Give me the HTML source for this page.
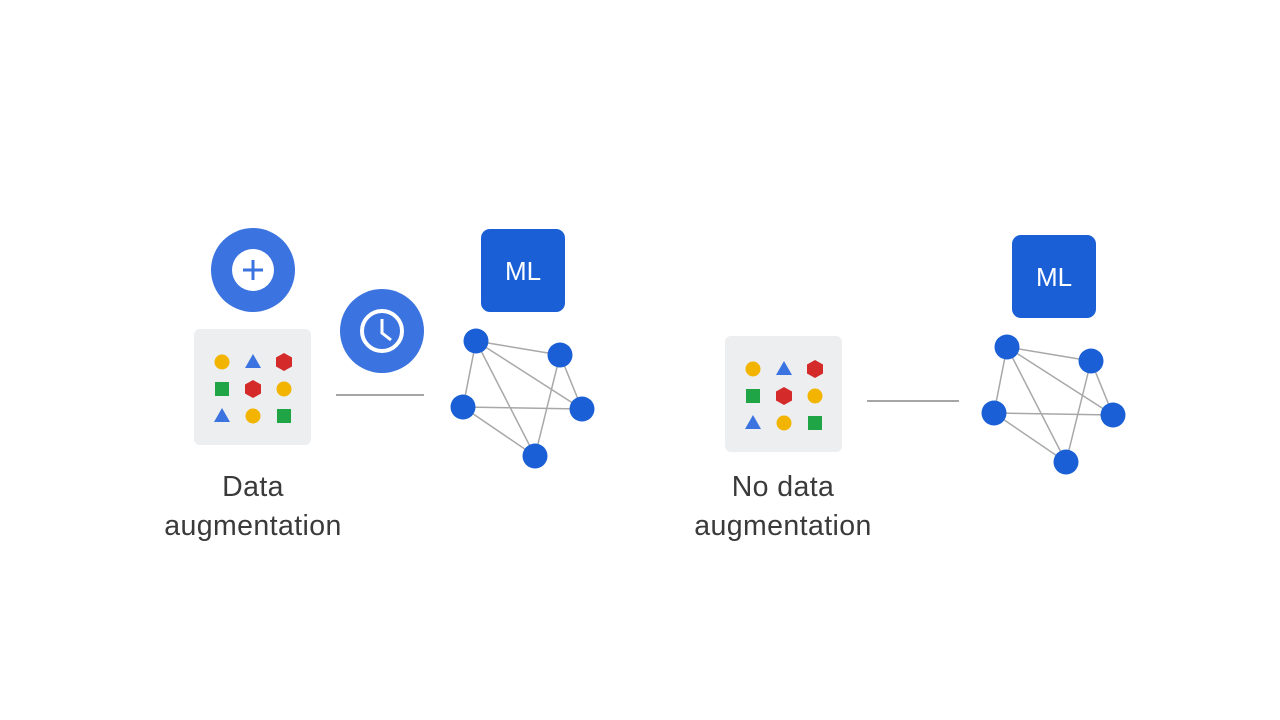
<!DOCTYPE html>
<html><head><meta charset="utf-8"><style>
html,body{margin:0;padding:0;background:#fff}
svg{display:block}
text{font-family:"Liberation Sans",sans-serif}
.lbl{font-size:28.5px;fill:#3a3a3a;letter-spacing:0.4px}
</style></head><body>
<svg width="1280" height="720" viewBox="0 0 1280 720" xmlns="http://www.w3.org/2000/svg">
<defs>
<g id="grid">
  <rect x="194" y="329" width="117" height="116" rx="6" fill="#eceef0"/>
  <circle cx="222" cy="362" r="7.5" fill="#f3b400"/>
  <polygon points="253,354 261,368 245,368" fill="#3b73e0"/>
  <polygon points="284,353 292,357.5 292,366.5 284,371 276,366.5 276,357.5" fill="#d42a2a"/>
  <rect x="215" y="382" width="14" height="14" fill="#1fa546"/>
  <polygon points="253,380 261,384.5 261,393.5 253,398 245,393.5 245,384.5" fill="#d42a2a"/>
  <circle cx="284" cy="389" r="7.5" fill="#f3b400"/>
  <polygon points="222,408 230,422 214,422" fill="#3b73e0"/>
  <circle cx="253" cy="416" r="7.5" fill="#f3b400"/>
  <rect x="277" y="409" width="14" height="14" fill="#1fa546"/>
</g>
<g id="net">
  <g stroke="#a8a8a8" stroke-width="1.5">
    <line x1="476" y1="341" x2="560" y2="355"/>
    <line x1="476" y1="341" x2="463" y2="407"/>
    <line x1="476" y1="341" x2="582" y2="409"/>
    <line x1="476" y1="341" x2="535" y2="456"/>
    <line x1="560" y1="355" x2="582" y2="409"/>
    <line x1="560" y1="355" x2="535" y2="456"/>
    <line x1="463" y1="407" x2="582" y2="409"/>
    <line x1="463" y1="407" x2="535" y2="456"/>
  </g>
  <g fill="#1a5fd6">
    <circle cx="476" cy="341" r="12.5"/>
    <circle cx="560" cy="355" r="12.5"/>
    <circle cx="463" cy="407" r="12.5"/>
    <circle cx="582" cy="409" r="12.5"/>
    <circle cx="535" cy="456" r="12.5"/>
  </g>
  <rect x="481" y="229" width="84" height="83" rx="9" fill="#1a5fd6"/>
  <text x="523" y="280" font-size="26" fill="#fff" text-anchor="middle">ML</text>
</g>
</defs>

<circle cx="253" cy="270" r="42" fill="#3b73e0"/>
<circle cx="253" cy="270" r="21" fill="#fff"/>
<rect x="251.5" y="260" width="3" height="20" fill="#3b73e0"/>
<rect x="243" y="268.5" width="20" height="3" fill="#3b73e0"/>

<circle cx="382" cy="331" r="42" fill="#3b73e0"/>
<circle cx="382" cy="331" r="20" fill="none" stroke="#fff" stroke-width="4"/>
<polyline points="382,319 382,333 391,340" fill="none" stroke="#fff" stroke-width="3"/>

<use href="#grid"/>
<line x1="336" y1="395" x2="424" y2="395" stroke="#888" stroke-width="1.5"/>
<use href="#net"/>
<text x="253" y="496" class="lbl" text-anchor="middle">Data</text>
<text x="253" y="535" class="lbl" text-anchor="middle">augmentation</text>

<g transform="translate(531,7)"><use href="#grid"/></g>
<line x1="867" y1="401" x2="959" y2="401" stroke="#888" stroke-width="1.5"/>
<g transform="translate(531,6)"><use href="#net"/></g>
<text x="783" y="496" class="lbl" text-anchor="middle">No data</text>
<text x="783" y="535" class="lbl" text-anchor="middle">augmentation</text>
</svg>
</body></html>
